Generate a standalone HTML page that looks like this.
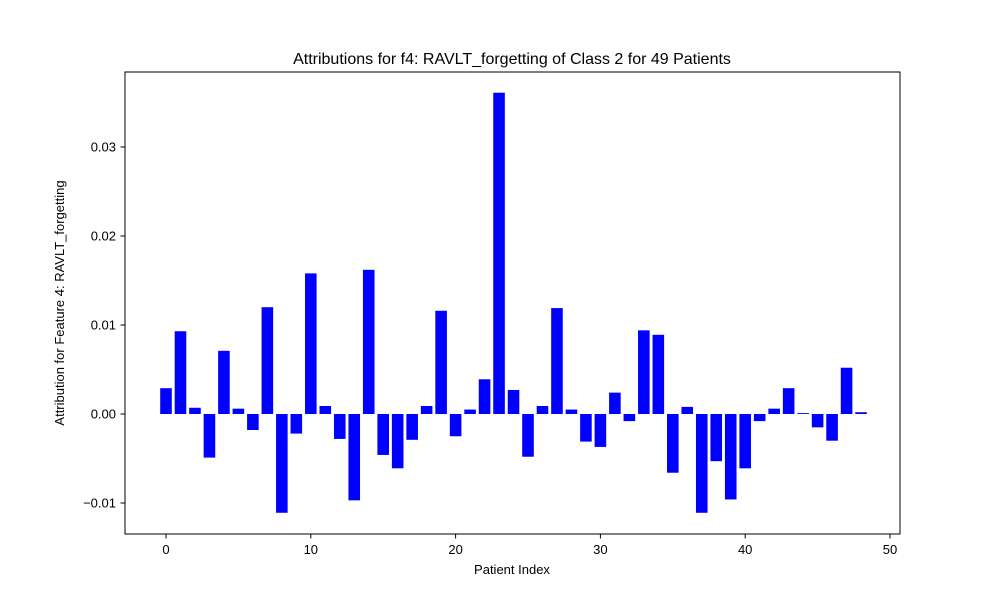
<!DOCTYPE html>
<html><head><meta charset="utf-8"><style>
body{margin:0;background:#fff;}
svg text{font-family:"Liberation Sans","DejaVu Sans",sans-serif;fill:#000;}
</style></head><body>
<svg id="chart" width="1000" height="600" xmlns="http://www.w3.org/2000/svg">
<rect width="1000" height="600" fill="#fff"/>
<text x="512" y="64" font-size="16" text-anchor="middle">Attributions for f4: RAVLT_forgetting of Class 2 for 49 Patients</text>
<text x="512" y="574" font-size="13" text-anchor="middle">Patient Index</text>
<text transform="translate(64,303) rotate(-90)" font-size="13" text-anchor="middle">Attribution for Feature 4: RAVLT_forgetting</text>
<g id="bars"></g><g id="ticks"></g>
<rect x="125" y="72" width="775" height="462" fill="none" stroke="#000" stroke-width="1"/>
</svg>
<script>
const values=[0.0029,0.0093,0.0007,-0.0049,0.0071,0.0006,-0.0018,0.012,-0.0111,-0.0022,0.0158,0.0009,-0.0028,-0.0097,0.0162,-0.0046,-0.0061,-0.0029,0.0009,0.0116,-0.0025,0.0005,0.0039,0.0361,0.0027,-0.0048,0.0009,0.0119,0.0005,-0.0031,-0.0037,0.0024,-0.0008,0.0094,0.0089,-0.0066,0.0008,-0.0111,-0.0053,-0.0096,-0.0061,-0.0008,0.0006,0.0029,0.0001,-0.0015,-0.003,0.0052,0.0002];
const xTicks=[0,10,20,30,40,50];
const yTicks=[-0.01,0,0.01,0.02,0.03];
const yTickLabels=["\u22120.01","0.00","0.01","0.02","0.03"];
const NS="http://www.w3.org/2000/svg";
const x=v=>166+v*14.48;
const y=v=>414-v*8900;
const bars=document.getElementById('bars'),ticks=document.getElementById('ticks');
values.forEach((v,i)=>{
  const r=document.createElementNS(NS,'rect');
  r.setAttribute('x',x(i-0.4));r.setAttribute('width',0.8*14.48);
  r.setAttribute('y',Math.min(y(v),y(0)));r.setAttribute('height',Math.abs(y(v)-y(0)));
  r.setAttribute('fill','#0000ff');
  
  
  bars.appendChild(r);
});
xTicks.forEach(t=>{
  const l=document.createElementNS(NS,'line');
  l.setAttribute('x1',x(t));l.setAttribute('x2',x(t));l.setAttribute('y1',534);l.setAttribute('y2',538.5);l.setAttribute('stroke','#000');
  
  
  ticks.appendChild(l);
  const s=document.createElementNS(NS,'text');
  s.setAttribute('x',x(t));s.setAttribute('y',554);s.setAttribute('font-size','13');s.setAttribute('text-anchor','middle');s.textContent=t;
  
  
  ticks.appendChild(s);
});
yTicks.forEach((t,i)=>{
  const l=document.createElementNS(NS,'line');
  l.setAttribute('x1',120.5);l.setAttribute('x2',125);l.setAttribute('y1',y(t));l.setAttribute('y2',y(t));l.setAttribute('stroke','#000');
  
  
  ticks.appendChild(l);
  const s=document.createElementNS(NS,'text');
  s.setAttribute('x',116);s.setAttribute('y',y(t)+4.5);s.setAttribute('font-size','13');s.setAttribute('text-anchor','end');s.textContent=yTickLabels[i];
  
  
  ticks.appendChild(s);
});
</script>
</body></html>
